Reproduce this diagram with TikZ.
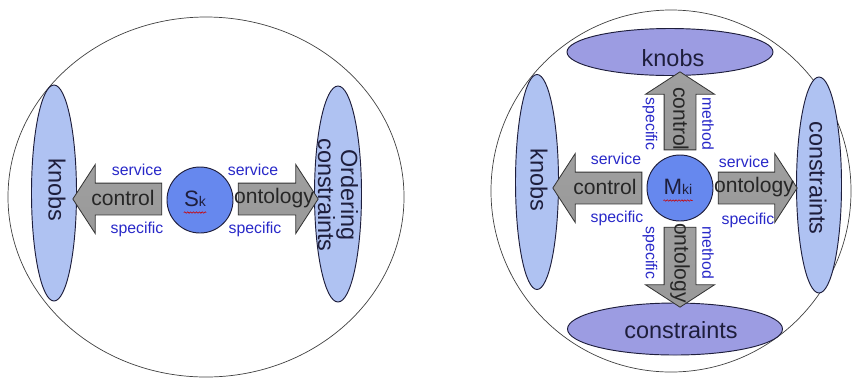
\documentclass[tikz,border=0pt]{standalone}
\usepackage{fontspec}
\setmainfont{Liberation Sans}
\usetikzlibrary{shapes.geometric,shapes.arrows,decorations.pathmorphing}
\definecolor{pillblue}{HTML}{AFC2F2}
\definecolor{pilllilac}{HTML}{9C9CE2}
\definecolor{coreblue}{HTML}{6688EE}
\definecolor{inkdark}{HTML}{1E1E3C}
\definecolor{tagblue}{HTML}{2828C8}
\begin{document}
\begin{tikzpicture}[x=0.03cm,y=-0.03cm]
	\tikzstyle{world}=[ellipse, draw=black!75, line width=0.6pt, inner sep=0]
	\tikzstyle{pill}=[ellipse, draw=inkdark, line width=0.8pt, fill=pillblue, inner sep=0]
	\tikzstyle{core}=[circle, draw=inkdark, line width=0.8pt, fill=coreblue, inner sep=0, minimum size=1.98cm]
	\tikzstyle{arm}=[single arrow, draw=black!80, line width=0.7pt, top color=gray!75, middle color=gray!25, bottom color=gray!80, inner xsep=0, inner ysep=0.465cm, minimum width=2.04cm, single arrow head extend=0.555cm, single arrow tip angle=114]
	\tikzstyle{bigtext}=[text=inkdark, font=\fontsize{20}{17}\selectfont, inner sep=0, align=center]
	\tikzstyle{armtext}=[text=black!85, font=\fontsize{18}{18}\selectfont, inner sep=0]
	\tikzstyle{tagtext}=[text=tagblue, font=\fontsize{13.5}{14}\selectfont, inner sep=0]
	\tikzstyle{squig}=[red!80!black, line width=0.5pt, decorate, decoration={snake, amplitude=0.6pt, segment length=2.5pt}]
	\useasboundingbox (0,0) rectangle (852,379);
	%---------------------%
	% Service S_k
	\node[world, minimum width=11.88cm, minimum height=10.8cm] (worldS) at (206,197) {};
	\node[pill, minimum width=1.35cm, minimum height=6.48cm] (knobsS) at (54,193) {};
	\node[pill, minimum width=1.41cm, minimum height=6.48cm] (orderS) at (338,194) {};
	\node[arm, rotate=180, minimum height=2.67cm] (ctrlS) at (122.5,199) {};
	\node[arm, minimum height=2.4cm] (ontoS) at (273,199) {};
	\node[core] (sk) at (200,200) {};
	% Labels
	\node[bigtext, rotate=-90] (knobsSlbl) at (57,190) {knobs};
	\node[bigtext, rotate=-90] (orderSlbl) at (338,195) {Ordering\\constraints};
	\node[armtext] (ctrlSlbl) at (123,198) {control};
	\node[armtext] (ontoSlbl) at (274,198) {ontology};
	\node[tagtext] (srvSw) at (137,170) {service};
	\node[tagtext] (spcSw) at (137,229) {specific};
	\node[tagtext] (srvSe) at (253,170) {service};
	\node[tagtext] (spcSe) at (255,229) {specific};
	\node[text=inkdark, inner sep=0] (skname) at (195,199) {\fontsize{19}{19}\selectfont S\fontsize{12}{12}\selectfont k};
	\draw[squig] ([yshift=-5pt]skname.base west) -- ([yshift=-5pt]skname.base east);
	%---------------------%
	% Method M_ki
	\node[world, minimum width=10.8cm, minimum height=10.86cm] (worldM) at (671,191) {};
	\node[pill, fill=pilllilac, minimum width=6.18cm, minimum height=1.41cm] (knobsN) at (670,52) {};
	\node[pill, fill=pilllilac, minimum width=6.45cm, minimum height=1.56cm] (consS) at (675,329) {};
	\node[pill, minimum width=1.29cm, minimum height=6.45cm] (knobsW) at (537,182) {};
	\node[pill, minimum width=1.35cm, minimum height=6.48cm] (consE) at (819,185) {};
	\node[arm, rotate=180, minimum height=2.67cm] (ctrlW) at (602.5,188) {};
	\node[arm, minimum height=2.37cm] (ontoE) at (752.5,188) {};
	\node[arm, rotate=90, minimum height=2.34cm] (ctrlN) at (680,116) {};
	\node[arm, rotate=-90, minimum height=2.4cm] (ontoS) at (680,262) {};
	\node[core] (mki) at (680,188) {};
	% Labels
	\node[bigtext] (knobsNlbl) at (673,58) {knobs};
	\node[bigtext] (consSlbl) at (681,330) {constraints};
	\node[bigtext, rotate=-90] (knobsWlbl) at (539,180) {knobs};
	\node[bigtext, rotate=-90] (consElbl) at (818,178) {constraints};
	\node[armtext] (ctrlWlbl) at (605,187) {control};
	\node[armtext] (ontoElbl) at (754,187) {ontology};
	\node[armtext, rotate=-90] (ctrlNlbl) at (681,119) {control};
	\node[armtext, rotate=-90] (ontoSlbl) at (680,263) {ontology};
	\node[tagtext] (srvMw) at (616,159) {service};
	\node[tagtext] (spcMw) at (617,218) {specific};
	\node[tagtext] (srvMe) at (744,162) {service};
	\node[tagtext] (spcMe) at (748,220) {specific};
	\node[tagtext, rotate=-90] (spcMn) at (650,124) {specific};
	\node[tagtext, rotate=-90] (mthMn) at (708,124) {method};
	\node[tagtext, rotate=-90] (spcMs) at (650,253) {specific};
	\node[tagtext, rotate=-90] (mthMs) at (708,253) {method};
	\node[text=inkdark, inner sep=0] (mkiname) at (678,187) {\fontsize{19}{19}\selectfont M\fontsize{12}{12}\selectfont ki};
	\draw[squig] ([yshift=-5pt]mkiname.base west) -- ([yshift=-5pt]mkiname.base east);
	%---------------------%
\end{tikzpicture}
\end{document}
